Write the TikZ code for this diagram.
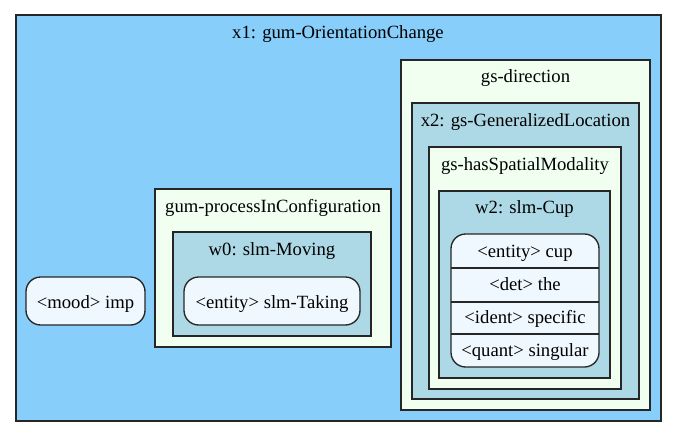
\documentclass[tikz,border=0pt]{standalone}
\usepackage{fontspec}
\setmainfont{Liberation Serif}
\usetikzlibrary{positioning}
\definecolor{skyfill}{HTML}{87CEFA}
\definecolor{dewfill}{HTML}{F0FFF0}
\definecolor{bluefill}{HTML}{ADD8E6}
\definecolor{alicefill}{HTML}{F0F8FF}
\begin{document}
\begin{tikzpicture}[x=0.75pt,y=-0.75pt,
	font=\fontsize{14pt}{16pt}\selectfont,
	cluster/.style={draw=black!85, line width=1pt},
	rbox/.style={draw=black!85, line width=1pt, fill=alicefill, rounded corners=11pt},
	lbl/.style={anchor=base, inner sep=0pt}]

	\useasboundingbox (0,0) rectangle (677,437);
	\fill[white] (0,0) rectangle (677,437);

	% Outer cluster
	\draw[cluster, fill=skyfill] (16,15) rectangle (661,421);
	\node[lbl] (x1) at (338,38) {x1: gum-OrientationChange};

	% Mood
	\draw[rbox] (26,277) rectangle (145,325);
	\node[lbl] (mood) at (85.5,308) {<mood> imp};

	% Process
	\draw[cluster, fill=dewfill] (155,189) rectangle (391,347);
	\node[lbl] (process) at (273,212) {gum-processInConfiguration};
	\draw[cluster, fill=bluefill] (173,232) rectangle (371,336);
	\node[lbl] (w0) at (272,255) {w0: slm-Moving};
	\draw[rbox] (184,277) rectangle (360,325);
	\node[lbl] (taking) at (272,308) {<entity> slm-Taking};

	% Direction
	\draw[cluster, fill=dewfill] (401,60) rectangle (650,410);
	\node[lbl] (direction) at (525.5,82) {gs-direction};
	\draw[cluster, fill=bluefill] (412,103) rectangle (639,399);
	\node[lbl] (x2) at (525.5,126) {x2: gs-GeneralizedLocation};
	\draw[cluster, fill=dewfill] (429,147) rectangle (621,389);
	\node[lbl] (modality) at (525,170) {gs-hasSpatialModality};
	\draw[cluster, fill=bluefill] (439,191) rectangle (610,378);
	\node[lbl] (w2) at (524.5,213) {w2: slm-Cup};

	% Record
	\draw[rbox] (451,234) rectangle (599,367);
	\draw[cluster] (451,268) -- (599,268);
	\draw[cluster] (451,302) -- (599,302);
	\draw[cluster] (451,334) -- (599,334);
	\node[lbl] (cup) at (525,257) {<entity> cup};
	\node[lbl] (det) at (525,290) {<det> the};
	\node[lbl] (ident) at (525,323) {<ident> specific};
	\node[lbl] (quant) at (525,356) {<quant> singular};
\end{tikzpicture}
\end{document}
